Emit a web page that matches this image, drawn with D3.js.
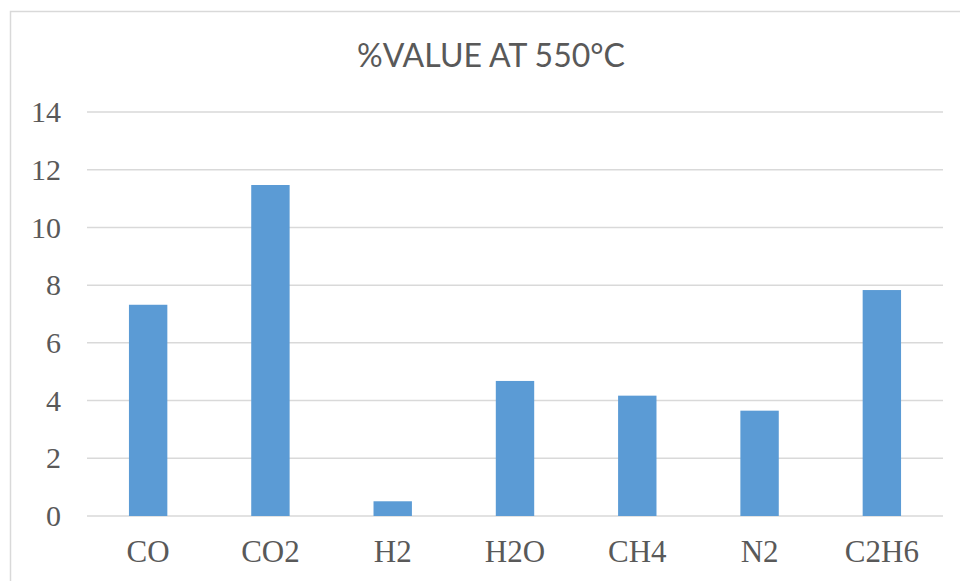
<!DOCTYPE html>
<html>
<head>
<meta charset="utf-8">
<script src="https://d3js.org/d3.v7.min.js"></script>
<style>
  body { margin: 0; background: #fff; }
</style>
</head>
<body>
<div id="chart"></div>
<script>
var categories = ["CO", "CO2", "H2", "H2O", "CH4", "N2", "C2H6"];
var values = [7.32, 11.47, 0.51, 4.68, 4.17, 3.65, 7.83];
var yTicks = [0, 2, 4, 6, 8, 10, 12, 14];
var title = "%VALUE AT 550°C";

var W = 960, H = 581;
var margin = {top: 112, right: 17, bottom: 65, left: 87},
width = W - margin.left - margin.right,
height = H - margin.top - margin.bottom;

var svg = d3.select("#chart").append("svg")
.attr("width", W)
.attr("height", H);

// chart area border
svg.append("rect")
.attr("x", 10.5)
.attr("y", 11.5)
.attr("width", W)
.attr("height", H)
.attr("fill", "none")
.attr("stroke", "#d9d9d9")
.attr("stroke-width", 1.5);

svg.append("text")
.attr("x", 491)
.attr("y", 67)
.attr("text-anchor", "middle")
.attr("font-family", "Lato, 'Open Sans', sans-serif")
.attr("font-size", 33)
.attr("fill", "#595959")
.attr("textLength", 268)
.attr("lengthAdjust", "spacingAndGlyphs")
.text(title);

var g = svg.append("g")
.attr("transform", "translate(" + margin.left + "," + margin.top + ")");

var x = d3.scaleBand()
.domain(categories)
.range([0, width])
.paddingInner(0.686)
.paddingOuter(0.343);

var y = d3.scaleLinear()
.domain([0, 14])
.range([height, 0]);

// gridlines
g.append("g")
.selectAll("line")
.data(yTicks)
.enter().append("line")
.attr("x1", 0)
.attr("x2", width)
.attr("y1", function(d) { return y(d); })
.attr("y2", function(d) { return y(d); })
.attr("stroke", "#d9d9d9")
.attr("stroke-width", 1.5);

// y axis labels
var yAxis = d3.axisLeft(y).tickValues(yTicks).tickSize(0).tickPadding(26);
g.append("g")
.call(yAxis)
.call(function(s) { s.select(".domain").remove(); })
.selectAll("text")
.attr("font-family", "'Liberation Serif', 'Times New Roman', serif")
.attr("font-size", 30)
.attr("fill", "#595959");

// bars
g.selectAll(".bar")
.data(values)
.enter().append("rect")
.attr("class", "bar")
.attr("fill", "#5b9bd5")
.attr("x", function(d, i) { return x(categories[i]); })
.attr("width", x.bandwidth())
.attr("y", function(d) { return y(d); })
.attr("height", function(d) { return height - y(d); });

// x axis labels
var xAxis = d3.axisBottom(x).tickSize(0).tickPadding(24);
g.append("g")
.attr("transform", "translate(0," + height + ")")
.call(xAxis)
.call(function(s) { s.select(".domain").remove(); })
.selectAll("text")
.attr("font-family", "'Liberation Serif', 'Times New Roman', serif")
.attr("font-size", 31)
.attr("fill", "#595959");
</script>
</body>
</html>
